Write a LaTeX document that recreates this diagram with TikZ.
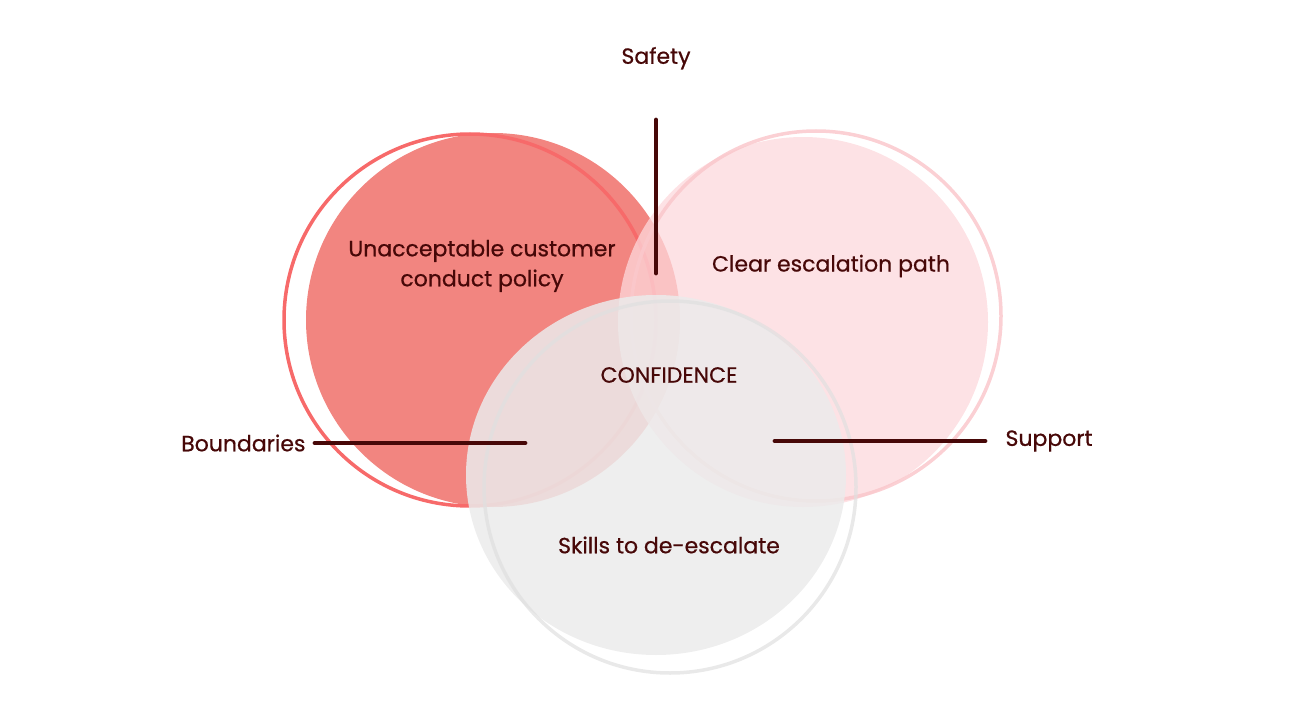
\documentclass[tikz,border=0pt]{standalone}
\usepackage{fontspec}
\setmainfont{Poppins}[FakeBold=0.6]
\usepackage{tikz}
\usetikzlibrary{positioning}
\definecolor{vnink}{HTML}{470808}
\definecolor{vnred}{HTML}{F28580}
\definecolor{vnredline}{HTML}{F76A6A}
\definecolor{vnpink}{HTML}{FDD8DC}
\definecolor{vnpinkline}{HTML}{FAC8CC}
\definecolor{vngrey}{HTML}{EBEBEB}
\definecolor{vngreyline}{HTML}{E0E0E0}

\begin{document}
\begin{tikzpicture}[
  x=1pt,y=-1pt,
  every node/.style={font=\fontsize{22}{30}\selectfont,text=vnink,align=center},
  ring/.style={line width=3.5pt},
  lead/.style={line width=4.8pt,line cap=round,draw=vnink}
]
\useasboundingbox (0,0) rectangle (1292,727);
% the three discs, each with its offset ring
\fill[vnred] (493,320) circle[radius=187pt];
\draw[ring,vnredline] (470,320) circle[radius=186pt];
\fill[vnpink,fill opacity=0.75] (803,322) circle[radius=185pt];
\draw[ring,vnpinkline,draw opacity=0.85] (816,316) circle[radius=185pt];
\fill[vngrey,fill opacity=0.85] (656,475) ellipse[x radius=190pt,y radius=180pt];
\draw[ring,vngreyline,draw opacity=0.7] (670,487) circle[radius=186pt];

\node (policy) at (482,266) {Unacceptable customer\\conduct policy};
\node (escalation) at (831,266) {Clear escalation path};
\node (confidence) at (669,375) {CONFIDENCE};
\node (skills) at (669,545) {Skills to de-escalate};

\coordinate (safetytop) at (656,120);
\coordinate (safetyend) at (656,273);
\coordinate (boundsend) at (315,443);
\coordinate (boundsin) at (525,443);
\coordinate (supportin) at (775,441);
\coordinate (supportend) at (985,441);
\node[above=47pt of safetytop] (safety) {Safety};
\node[left=6pt of boundsend] (bounds) {Boundaries};
\node[right=17pt of supportend] (support) {Support};
\draw[lead] (safetytop) -- (safetyend);
\draw[lead] (boundsend) -- (boundsin);
\draw[lead] (supportin) -- (supportend);
\end{tikzpicture}
\end{document}
